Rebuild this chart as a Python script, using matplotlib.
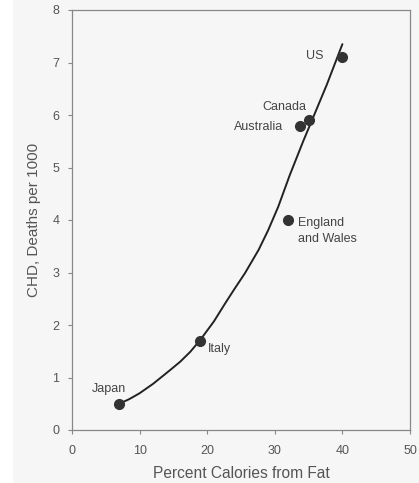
import matplotlib
matplotlib.use("Agg")
import matplotlib.pyplot as plt
import numpy as np

plt.rcParams['font.family'] = ['Liberation Sans', 'DejaVu Sans']

countries = ['Japan', 'Italy', 'England\nand Wales', 'Australia', 'Canada', 'US']
fat_pct = [7, 19, 32, 33.7, 35, 40]
chd = [0.5, 1.7, 4.0, 5.8, 5.9, 7.1]

# fitted curve
curve_x = [7, 8.5, 10, 12, 14.5, 16, 17.5, 19, 21, 22.6, 24, 25.6, 27.6, 29,
           30.5, 32.2, 34.2, 35.5, 37.7, 40]
curve_y = [0.5, 0.59, 0.70, 0.88, 1.14, 1.30, 1.49, 1.72, 2.07, 2.40, 2.68, 2.99,
           3.43, 3.80, 4.25, 4.85, 5.50, 5.90, 6.58, 7.35]

# label placement (data coords) and alignment
label_x = [5.5, 20.1, 33.4, 31.2, 31.4, 37.2]
label_y = [0.78, 1.54, 3.79, 5.77, 6.15, 7.12]
label_ha = ['center', 'left', 'left', 'right', 'center', 'right']

bg = '#f6f6f6'
fig = plt.figure(figsize=(4.19, 4.83), dpi=100, facecolor=bg)
fig.patches.append(plt.Rectangle((0, 0), 12 / 419, 1, transform=fig.transFigure,
                                 color='white', zorder=0))
ax = fig.add_axes([72 / 419, 53 / 483, 338 / 419, 420 / 483])
ax.set_facecolor(bg)

ax.plot(curve_x, curve_y, color='#222222', lw=1.4, solid_joinstyle='round',
        solid_capstyle='round')
ax.plot(fat_pct, chd, 'o', color='#333333', markersize=7)

for name, lx, ly, ha in zip(countries, label_x, label_y, label_ha):
    ax.text(lx, ly, name, ha=ha, va='center', fontsize=9, color='#444444',
            linespacing=1.5)

ax.set_xlim(0, 50)
ax.set_ylim(0, 8)
ax.set_xticks(np.arange(0, 51, 10))
ax.set_yticks(np.arange(0, 9, 1))
ax.tick_params(direction='out', length=3, width=0.8, colors='#888888',
               labelcolor='#555555', labelsize=9)
ax.tick_params(axis='x', pad=8)
ax.tick_params(axis='y', pad=6)
for s in ax.spines.values():
    s.set_color('#888888')
    s.set_linewidth(0.9)

ax.set_xlabel('Percent Calories from Fat', fontsize=11.2, color='#555555', labelpad=6)
ax.set_ylabel('CHD, Deaths per 1000', fontsize=11, color='#555555', labelpad=8)

fig.savefig('out.png', dpi=100, facecolor=bg)
